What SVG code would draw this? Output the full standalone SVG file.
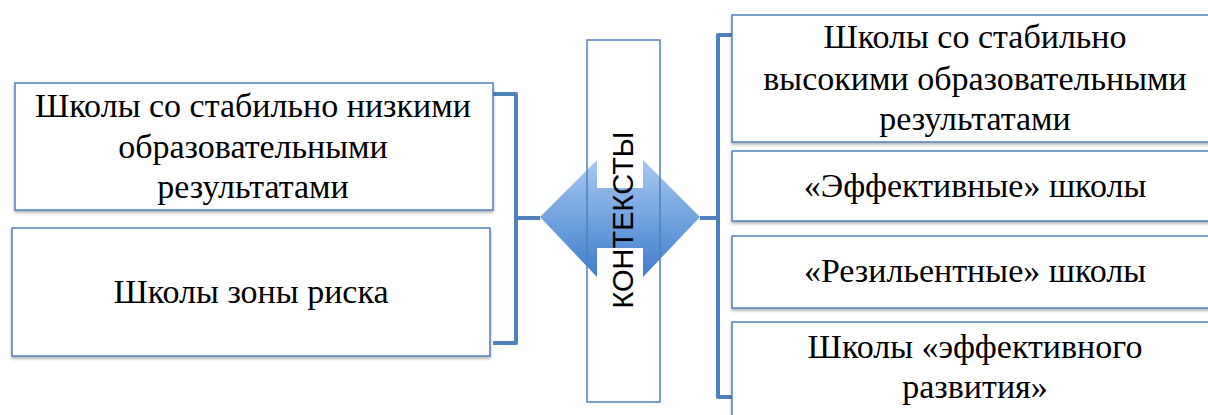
<svg xmlns="http://www.w3.org/2000/svg" width="1208" height="415" viewBox="0 0 1208 415">
<defs>
<linearGradient id="ag" x1="0" y1="0" x2="0" y2="1">
<stop offset="0" stop-color="#a6c8f2"/>
<stop offset="1" stop-color="#3f7dcc"/>
</linearGradient>
<filter id="sh" x="-5%" y="-5%" width="110%" height="120%">
<feDropShadow dx="0" dy="2" stdDeviation="1.5" flood-color="#000" flood-opacity="0.3"/>
</filter>
</defs>
<style>
.box{fill:#fff;stroke:#4f81bd;stroke-width:1.5;filter:url(#sh)}
.t{font-family:"Liberation Serif","Times New Roman",serif;font-size:34px;fill:#000;text-anchor:middle}
.br{fill:none;stroke:#4f81bd;stroke-width:4;stroke-linejoin:round}
</style>
<g id="connectors">
<path class="br" d="M493,94 H516 V343 H493 M516,218 H540"/>
<path class="br" d="M733,35 H718 V397 H733 M718,218 H700"/>
</g>
<g id="arrow">
<path d="M540,217 L597,160 V188 H643 V160 L700,217 L643,277 V248 H597 V277 Z" fill="url(#ag)"/>
</g>
<g id="contexts">
<rect x="587" y="40" width="73" height="362" fill="none" stroke="#4f81bd" stroke-width="1.5"/>
<text transform="translate(633,220) rotate(-90)" text-anchor="middle" font-family="Liberation Sans, Arial, sans-serif" font-size="29" fill="#000">КОНТЕКСТЫ</text>
</g>
<g id="left1">
<rect class="box" x="15" y="83" width="478" height="127"/>
<text class="t" x="253" y="117">Школы со стабильно низкими</text>
<text class="t" x="253" y="158">образовательными</text>
<text class="t" x="253" y="198">результатами</text>
</g>
<g id="left2">
<rect class="box" x="12" y="228" width="478" height="128"/>
<text class="t" x="251" y="303">Школы зоны риска</text>
</g>
<g id="right1">
<rect class="box" x="732" y="15" width="490" height="127"/>
<text class="t" x="975" y="48">Школы со стабильно</text>
<text class="t" x="975" y="90">высокими образовательными</text>
<text class="t" x="975" y="130">результатами</text>
</g>
<g id="right2">
<rect class="box" x="732" y="151" width="490" height="70"/>
<text class="t" x="975" y="197">«Эффективные» школы</text>
</g>
<g id="right3">
<rect class="box" x="732" y="236" width="490" height="72"/>
<text class="t" x="975" y="282">«Резильентные» школы</text>
</g>
<g id="right4">
<rect class="box" x="732" y="322" width="490" height="110"/>
<text class="t" x="975" y="358">Школы «эффективного</text>
<text class="t" x="975" y="398">развития»</text>
</g>
</svg>
